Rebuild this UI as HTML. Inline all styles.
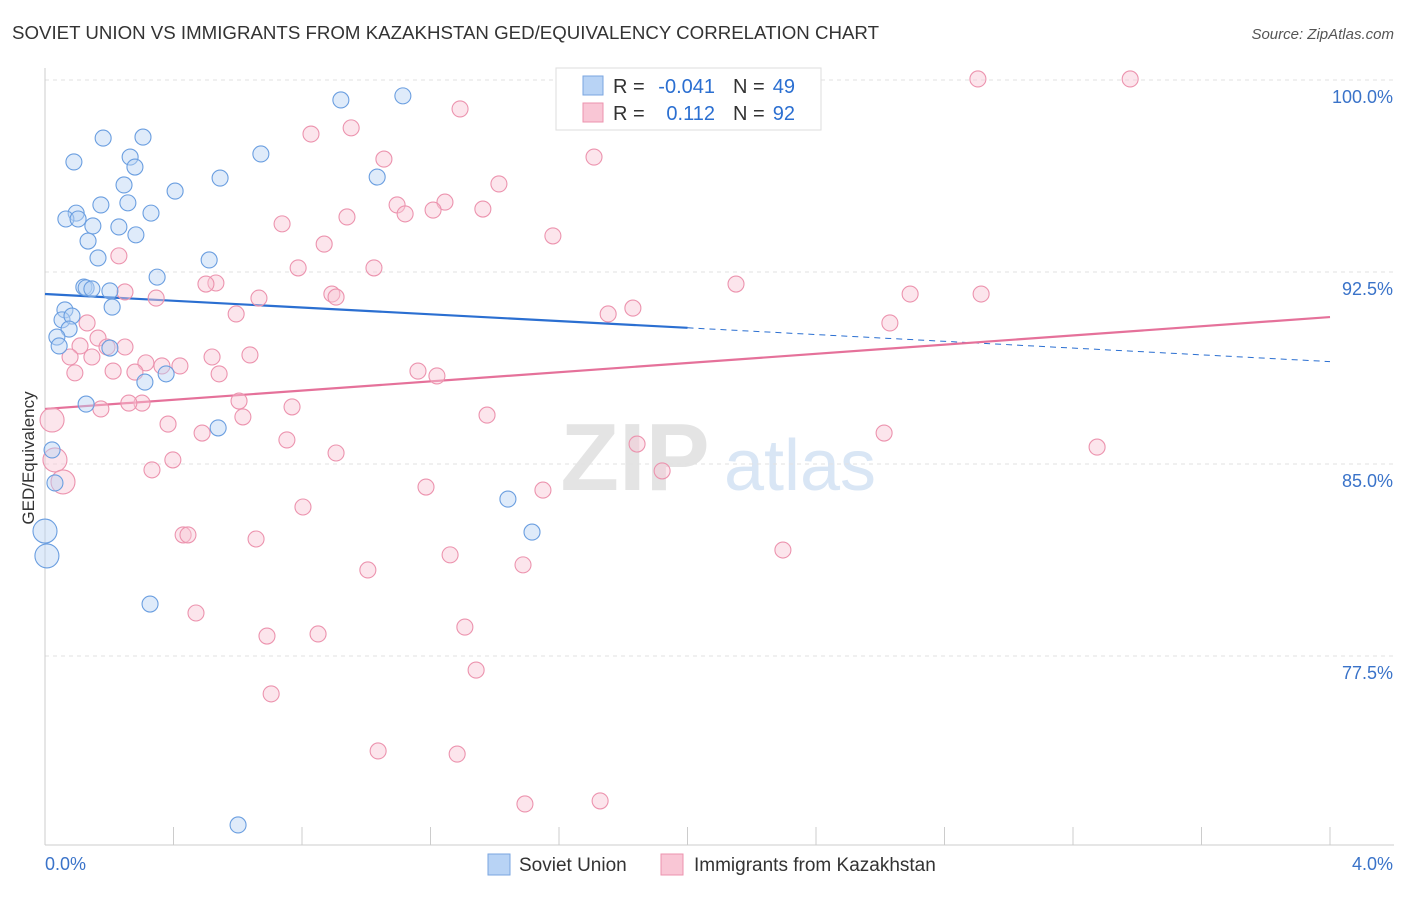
<!DOCTYPE html>
<html><head><meta charset="utf-8">
<style>
body{margin:0;background:#fff;font-family:"Liberation Sans",sans-serif;}
svg text{font-family:"Liberation Sans",sans-serif;}
</style></head>
<body>
<svg id="chart" width="1406" height="892" viewBox="0 0 1406 892">
<text x="12" y="39" font-size="18" fill="#333" textLength="867" lengthAdjust="spacingAndGlyphs">SOVIET UNION VS IMMIGRANTS FROM KAZAKHSTAN GED/EQUIVALENCY CORRELATION CHART</text>
<text x="1394" y="39" font-size="15" fill="#555" text-anchor="end" font-style="italic">Source: ZipAtlas.com</text>
<text x="34" y="458" font-size="17" fill="#333" text-anchor="middle" transform="rotate(-90 34 458)">GED/Equivalency</text>
<g>
<text x="635" y="490" font-size="96" fill="#e4e4e4" text-anchor="middle" font-family="Liberation Serif" font-weight="bold">ZIP</text>
<text x="800" y="490" font-size="72" fill="#d9e6f5" text-anchor="middle">atlas</text>
</g>
<g id="grid"></g>
<g id="axes"></g>
<g id="lines"></g>
<g id="pts"></g>
<g>
<rect x="556" y="68" width="265" height="62" fill="#fff" stroke="#ddd"/>
<rect x="583" y="76" width="20" height="19" fill="#b8d3f5" stroke="#7aa6e0"/>
<rect x="583" y="103" width="20" height="19" fill="#f9c6d5" stroke="#ec93ae"/>
<text x="613" y="93" font-size="20" fill="#333">R =</text>
<text x="715" y="93" font-size="20" fill="#2b6fd1" text-anchor="end">-0.041</text>
<text x="733" y="93" font-size="20" fill="#333">N =</text>
<text x="795" y="93" font-size="20" fill="#2b6fd1" text-anchor="end">49</text>
<text x="613" y="120" font-size="20" fill="#333">R =</text>
<text x="715" y="120" font-size="20" fill="#2b6fd1" text-anchor="end">0.112</text>
<text x="733" y="120" font-size="20" fill="#333">N =</text>
<text x="795" y="120" font-size="20" fill="#2b6fd1" text-anchor="end">92</text>
</g>
<g>
<rect x="488" y="854" width="22" height="21" fill="#b8d3f5" stroke="#7aa6e0"/>
<text x="519" y="871" font-size="19" fill="#333">Soviet Union</text>
<rect x="661" y="854" width="22" height="21" fill="#f9c6d5" stroke="#ec93ae"/>
<text x="694" y="871" font-size="19" fill="#333">Immigrants from Kazakhstan</text>
</g>
</svg>
<script>
const yTicks=[100,92.5,85,77.5];
const yTickLabels=["100.0%","92.5%","85.0%","77.5%"];
const xLabels=["0.0%","4.0%"];
const blueX=[1.114,0.921,0.305,0.181,0.672,0.265,0.090,0.280,1.034,0.545,0.246,0.405,0.174,0.258,0.330,0.097,0.065,0.103,0.149,0.230,0.283,0.134,0.165,0.511,0.349,0.121,0.128,0.146,0.202,0.062,0.209,0.053,0.084,0.075,0.037,0.044,0.202,0.377,0.311,0.128,0.539,0.022,0.031,1.441,1.516,0.0,0.006,0.327,0.601];
const blueY=[99.38,99.22,97.77,97.73,97.11,96.99,96.80,96.60,96.21,96.17,95.90,95.66,95.12,95.20,94.80,94.80,94.57,94.57,94.30,94.26,93.95,93.71,93.05,92.97,92.30,91.91,91.88,91.84,91.76,91.02,91.13,90.63,90.78,90.27,89.96,89.61,89.53,88.52,88.20,87.34,86.41,85.55,84.26,83.63,82.34,82.38,81.41,79.53,70.90];
const blueBig=[45,46];
const pinkX=[2.904,3.378,1.292,0.828,0.953,1.055,1.709,1.413,1.096,1.245,1.121,1.208,1.363,0.940,0.738,1.581,0.869,0.230,0.788,1.024,2.151,2.693,2.914,0.532,0.501,0.249,0.666,0.346,0.893,0.906,1.830,1.753,0.595,2.630,0.131,0.165,0.249,0.109,0.078,0.146,0.193,0.520,0.638,0.314,0.364,0.420,0.280,0.212,0.093,0.542,1.161,1.220,0.302,0.261,0.174,0.604,0.769,1.376,0.616,0.383,0.489,2.612,0.022,0.031,0.056,1.843,0.753,0.906,0.398,0.333,1.921,1.186,1.550,0.803,0.430,0.445,0.657,2.297,1.261,1.005,1.488,0.470,1.307,0.850,0.691,1.342,0.704,1.037,1.283,1.494,1.728,3.275];
const pinkY=[100.04,100.04,98.87,97.89,98.13,96.91,96.99,95.94,95.12,95.23,94.77,94.92,94.96,94.65,94.38,93.91,93.59,93.13,92.66,92.66,92.03,91.64,91.64,92.07,92.03,91.72,91.48,91.48,91.64,91.52,91.09,90.86,90.86,90.51,90.51,89.92,89.57,89.61,89.18,89.18,89.57,89.18,89.26,88.95,88.83,88.83,88.59,88.63,88.56,88.52,88.63,88.44,87.38,87.38,87.15,87.46,87.23,86.91,86.84,86.56,86.21,86.21,86.72,85.16,84.30,85.78,85.94,85.43,85.16,84.77,84.73,84.10,83.98,83.32,82.23,82.23,82.07,81.64,81.45,80.86,81.06,79.18,78.63,78.36,78.28,76.95,76.02,73.79,73.67,71.72,71.84,85.66];
const pinkBig=[62,63,64];
const blueTrend=[91.64,89.00];
const pinkTrend=[87.15,90.74];
const NS="http://www.w3.org/2000/svg";
const xs=v=>45+v*321.25;
const ys=v=>80+(100-v)*25.6;
function mk(tag,attrs,parent){const e=document.createElementNS(NS,tag);for(const k in attrs)e.setAttribute(k,attrs[k]);document.getElementById(parent).appendChild(e);return e;}
yTicks.forEach((t,i)=>{
 const l=mk('line',{x1:45,x2:1394,y1:ys(t),y2:ys(t),stroke:'#e2e2e2','stroke-dasharray':'4,4'},'grid');
 
 
 const tx=mk('text',{x:1393,y:ys(t)+23,'font-size':18,fill:'#3a73c9','text-anchor':'end'},'axes');
 tx.textContent=yTickLabels[i];
 
 
});
const ax=mk('line',{x1:45,x2:45,y1:68,y2:845,stroke:'#ccc'},'axes');


const bx=mk('line',{x1:45,x2:1394,y1:845,y2:845,stroke:'#ccc'},'axes');


for(let i=1;i<=10;i++){const tk=mk('line',{x1:xs(i*0.4),x2:xs(i*0.4),y1:827,y2:845,stroke:'#ccc'},'axes');
 
 }
[[0,45,'start'],[4,1393,'end']].forEach((a,i)=>{const t=mk('text',{x:a[1],y:870,'font-size':18,fill:'#3a73c9','text-anchor':a[2]},'axes');t.textContent=xLabels[i];
 
 });
function drawPts(X,Y,big,fill,stroke,name){
 X.forEach((x,i)=>{const r=big.includes(i)?12:8;
  const c=mk('circle',{cx:xs(x),cy:ys(Y[i]),r:r,fill:fill,'fill-opacity':0.45,stroke:stroke,'stroke-width':1.1},'pts');
  
  });
}
drawPts(pinkX,pinkY,pinkBig,'#f9c6d5','#ec93ae','kazakhstan-point');
drawPts(blueX,blueY,blueBig,'#b8d3f5','#6a9ee0','soviet-union-point');
const bxm=2.0, bym=blueTrend[0]+(blueTrend[1]-blueTrend[0])*bxm/4;
const l1=mk('line',{x1:xs(0),y1:ys(blueTrend[0]),x2:xs(bxm),y2:ys(bym),stroke:'#2b6fd1','stroke-width':2.2},'lines');


const l2=mk('line',{x1:xs(bxm),y1:ys(bym),x2:xs(4),y2:ys(blueTrend[1]),stroke:'#2b6fd1','stroke-width':1,'stroke-dasharray':'6,5'},'lines');


const l3=mk('line',{x1:xs(0),y1:ys(pinkTrend[0]),x2:xs(4),y2:ys(pinkTrend[1]),stroke:'#e5719a','stroke-width':2.2},'lines');


</script>
</body></html>
